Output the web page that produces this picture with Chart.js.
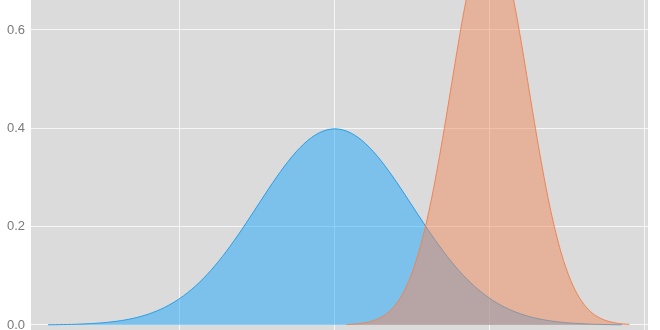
<!DOCTYPE html>
<html>
<head>
<meta charset="utf-8">
<script src="https://cdn.jsdelivr.net/npm/chart.js@4/dist/chart.umd.min.js"></script>
<style>
html,body{margin:0;padding:0;background:#fff;}
#wrap{width:660px;height:330px;position:relative;}
</style>
</head>
<body>
<div id="wrap"><canvas id="c" width="660" height="330"></canvas></div>
<script>
const blueX = [-3.7,-3.6,-3.5,-3.4,-3.3,-3.2,-3.1,-3.0,-2.9,-2.8,-2.7,-2.6,-2.5,-2.4,-2.3,-2.2,-2.1,-2.0,-1.9,-1.8,-1.7,-1.6,-1.5,-1.4,-1.3,-1.2,-1.1,-1.0,-0.9,-0.8,-0.7,-0.6,-0.5,-0.4,-0.3,-0.2,-0.1,0,
0.1,0.2,0.3,0.4,0.5,0.6,0.7,0.8,0.9,1.0,1.1,1.2,1.3,1.4,1.5,1.6,1.7,1.8,1.9,2.0,2.1,2.2,2.3,2.4,2.5,2.6,2.7,2.8,2.9,3.0,3.1,3.2,3.3,3.4,3.5,3.6,3.7];
const blueY = [0.0004,0.0006,0.0009,0.0012,0.0017,0.0024,0.0033,0.0044,0.0060,0.0079,0.0104,0.0136,0.0175,0.0224,0.0283,0.0355,0.0440,0.0540,0.0656,0.0790,0.0940,0.1109,0.1295,0.1497,0.1714,0.1942,0.2179,0.2420,0.2661,0.2897,0.3123,0.3332,0.3521,0.3683,0.3814,0.3910,0.3970,0.3989,
0.3970,0.3910,0.3814,0.3683,0.3521,0.3332,0.3123,0.2897,0.2661,0.2420,0.2179,0.1942,0.1714,0.1497,0.1295,0.1109,0.0940,0.0790,0.0656,0.0540,0.0440,0.0355,0.0283,0.0224,0.0175,0.0136,0.0104,0.0079,0.0060,0.0044,0.0033,0.0024,0.0017,0.0012,0.0009,0.0006,0.0004];
const orangeX = [0.15,0.2,0.25,0.3,0.35,0.4,0.45,0.5,0.55,0.6,0.65,0.7,0.75,0.8,0.85,0.9,0.95,1.0,1.05,1.1,1.15,1.2,1.25,1.3,1.35,1.4,1.45,1.5,1.55,1.6,1.65,1.7,1.75,1.8,1.85,1.9,1.95,2.0,
2.05,2.1,2.15,2.2,2.25,2.3,2.35,2.4,2.45,2.5,2.55,2.6,2.65,2.7,2.75,2.8,2.85,2.9,2.95,3.0,3.05,3.1,3.15,3.2,3.25,3.3,3.35,3.4,3.45,3.5,3.55,3.6,3.65,3.7,3.75,3.8];
const orangeY = [0.0008,0.0012,0.0017,0.0025,0.0034,0.0048,0.0065,0.0089,0.0119,0.0158,0.0208,0.0271,0.0350,0.0448,0.0566,0.0709,0.0879,0.1080,0.1312,0.1579,0.1880,0.2218,0.2590,0.2995,0.3429,0.3884,0.4357,0.4839,0.5321,0.5794,0.6245,0.6664,0.7041,0.7366,0.7628,0.7821,0.7940,0.7979,
0.7940,0.7821,0.7628,0.7366,0.7041,0.6664,0.6245,0.5794,0.5321,0.4839,0.4357,0.3884,0.3429,0.2995,0.2590,0.2218,0.1880,0.1579,0.1312,0.1080,0.0879,0.0709,0.0566,0.0448,0.0350,0.0271,0.0208,0.0158,0.0119,0.0089,0.0065,0.0048,0.0034,0.0025,0.0017,0.0012];
const xGridTicks = [-2, 0, 2, 4];
const yTicks = [0, 0.2, 0.4, 0.6];

const toPts = (xs, ys) => xs.map((x, i) => ({x: x, y: ys[i]}));

const bgPlugin = {
  id: 'plotbg',
  beforeDraw(chart) {
    const a = chart.chartArea, ctx = chart.ctx;
    ctx.save();
    ctx.fillStyle = '#dbdbdb';
    ctx.fillRect(a.left, a.top, a.right - a.left, a.bottom - a.top);
    ctx.restore();
  }
};

new Chart(document.getElementById('c'), {
  type: 'line',
  data: {
    datasets: [
      {
        data: toPts(orangeX, orangeY),
        borderColor: '#ec8557',
        backgroundColor: 'rgba(240,138,92,0.5)',
        borderWidth: 1,
        pointRadius: 0,
        fill: 'origin',
        tension: 0.3,
        order: 0
      },
      {
        data: toPts(blueX, blueY),
        borderColor: '#2a9ee6',
        backgroundColor: 'rgba(30,168,254,0.5)',
        borderWidth: 1,
        pointRadius: 0,
        fill: 'origin',
        tension: 0.3,
        order: 1
      }
    ]
  },
  options: {
    responsive: false,
    animation: false,
    events: [],
    layout: {padding: {left: 0, right: 12, top: 0, bottom: 0}},
    plugins: {legend: {display: false}, tooltip: {enabled: false}},
    scales: {
      x: {
        type: 'linear',
        min: -3.92,
        max: 4.04,
        afterBuildTicks(s) { s.ticks = xGridTicks.map(v => ({value: v})); },
        afterFit(s) { s.height = 0; s.paddingLeft = 0; s.paddingRight = 0; },
        ticks: {display: false},
        grid: {color: 'rgba(255,255,255,0.75)', lineWidth: 1, drawTicks: false},
        border: {display: false}
      },
      y: {
        min: -0.0102,
        max: 0.661,
        afterBuildTicks(s) { s.ticks = yTicks.map(v => ({value: v})); },
        afterFit(s) { s.width = 31; s.paddingTop = 0; s.paddingBottom = 0; },
        ticks: {
          color: '#7a7a7a',
          font: {family: 'Liberation Sans, Arial, sans-serif', size: 13},
          padding: 6,
          callback: v => v.toFixed(1)
        },
        grid: {color: 'rgba(255,255,255,0.75)', lineWidth: 1, drawTicks: false},
        border: {display: false}
      }
    }
  },
  plugins: [bgPlugin]
});
</script>
</body>
</html>
